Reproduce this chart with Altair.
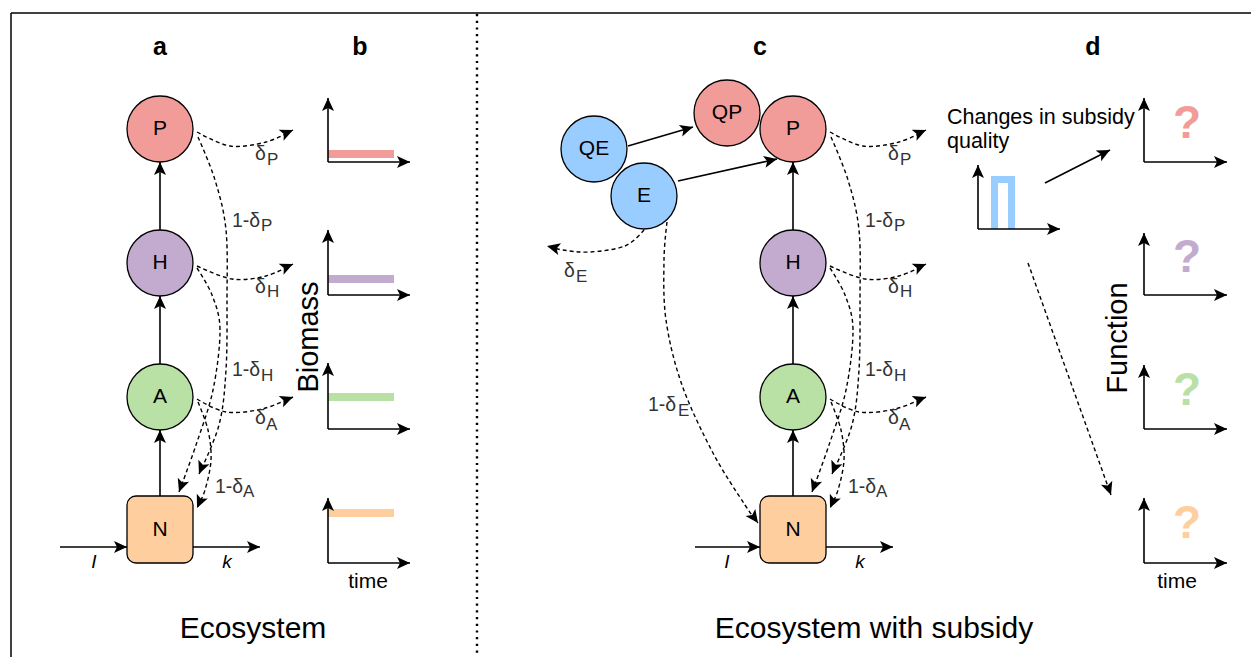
import math
import altair as alt
import pandas as pd

W, H = 1251, 657
FONT = "Liberation Sans"
PINK, PURPLE, GREEN, ORANGE, BLUE = "#f19c99", "#c3abd0", "#b9e0a5", "#ffce9f", "#99ccff"
SHIFT_C = 633  # panel c is panel a shifted right

# ---------------- nodes ----------------
circle_labels = ["P", "H", "A", "P", "H", "A", "QP", "QE", "E"]
circle_x = [160, 160, 160, 793, 793, 793, 727, 594, 644]
circle_y = [129, 263, 397, 129, 263, 397, 113, 149, 196]
circle_fill = [PINK, PURPLE, GREEN, PINK, PURPLE, GREEN, PINK, BLUE, BLUE]
circle_r = 33

box_labels = ["N", "N"]
box_x1 = [127, 760]
box_x2 = [193, 826]
box_y1 = [496, 496]
box_y2 = [563, 563]

# ---------------- solid arrows ----------------
arrow_x1 = [160, 160, 160, 60, 193, 793, 793, 793, 695, 826, 628, 678, 1045]
arrow_y1 = [496, 364, 230, 547, 547, 496, 364, 230, 547, 547, 146, 181, 183]
arrow_x2 = [160, 160, 160, 127, 260, 793, 793, 793, 760, 893, 693, 777, 1110]
arrow_y2 = [430, 296, 162, 547, 547, 430, 296, 162, 547, 547, 127, 159, 150]

# ---------------- mini axes ----------------
axes_x0 = [328, 328, 328, 328, 1144, 1144, 1144, 1144, 978]
axes_x1 = [410, 410, 410, 410, 1227, 1227, 1227, 1227, 1060]
axes_ytop = [98, 230, 363, 498, 98, 233, 365, 498, 165]
axes_ybot = [162, 295, 429, 563, 162, 295, 429, 563, 229]

biomass_y = [154, 279, 397, 513]
biomass_x1 = [328, 328, 328, 328]
biomass_x2 = [394, 394, 394, 394]
biomass_col = [PINK, PURPLE, GREEN, ORANGE]

pulse_x = [994.5, 994.5, 1011.5, 1011.5]
pulse_y = [229, 179.5, 179.5, 229]

# ---------------- dashed curves (through-points, arrow at last point) ----------------
curves_a = [
    [(197, 132), (230, 146), (266, 142), (293, 130)],                       # delta P
    [(197, 266), (232, 279), (266, 276), (293, 264)],                       # delta H
    [(197, 399), (226, 412), (262, 409), (293, 397)],                       # delta A
    [(198, 137), (215, 180), (226, 230), (227, 300), (226, 370), (219, 425), (199, 474)],  # 1-dP
    [(197, 268), (212, 295), (220, 330), (213, 390), (196, 445), (179, 492)],              # 1-dH
    [(198, 402), (208, 430), (211, 460), (205, 490), (197, 508)],                         # 1-dA
]
curves_extra = [
    [(644, 230), (625, 246), (590, 252), (563, 250), (547, 246)],                          # delta E
    [(667, 222), (664, 260), (666, 320), (682, 385), (713, 453), (745, 505), (758, 523)],  # 1-dE
    [(1028, 263), (1111, 495)],                                                           # d dashed
]

# ---------------- texts ----------------
panel_letters = ["a", "b", "c", "d"]
panel_x = [160, 360, 760, 1093]
panel_y = [55, 55, 55, 55]

titles = ["Ecosystem", "Ecosystem with subsidy"]
titles_x = [253, 874]
titles_y = [638, 638]

time_x = [368, 1177]
time_y = [588, 588]

changes_text = ["Changes in subsidy", "quality"]
changes_x = [947, 947]
changes_y = [124, 148]

flow_text = ["I", "k", "I", "k"]
flow_x = [94, 227, 727, 860]
flow_y = [568, 568, 568, 568]

ylabels = ["Biomass", "Function"]
ylabels_x = [309, 1118]
ylabels_y = [337, 338]

lab_main_a = ["δ", "1-δ", "δ", "1-δ", "δ", "1-δ"]
lab_sub_a = ["P", "P", "H", "H", "A", "A"]
lab_x_a = [255, 232, 255, 232, 255, 215]
lab_y_a = [160, 227, 293, 376, 424, 493]
sub_x_a = [267, 261, 267, 261, 266, 243]
sub_y_a = [165, 231, 297, 381, 430, 497]
lab_main_e = ["δ", "1-δ"]
lab_sub_e = ["E", "E"]
lab_x_e = [564, 648]
lab_y_e = [277, 411]
sub_x_e = [576, 678]
sub_y_e = [282, 416]

qmark_y = [138, 272, 405, 538]
qmark_x = [1187, 1187, 1187, 1187]
qmark_col = [PINK, PURPLE, GREEN, ORANGE]

# ================= build tables =================
XS = alt.Scale(domain=[0, W], range=[0, W], nice=False, zero=False)
YS = alt.Scale(domain=[0, H], range=[0, H], nice=False, zero=False)


def X(f="x"):
    return alt.X(f"{f}:Q", scale=XS, axis=None)


def Y(f="y"):
    return alt.Y(f"{f}:Q", scale=YS, axis=None)


def angle_of(x0, y0, x1, y1):
    return (math.degrees(math.atan2(x1 - x0, -(y1 - y0))) + 360) % 360


layers = []

# frame
frame = pd.DataFrame({"x": [11, 11], "y": [13, 13], "x2": [W, 11], "y2": [13, H]})
layers.append(alt.Chart(frame).mark_rule(color="black", strokeWidth=1.5).encode(
    x=X(), y=Y(), x2="x2:Q", y2="y2:Q"))
divider = pd.DataFrame({"x": [477], "y": [14], "x2": [477], "y2": [H]})
layers.append(alt.Chart(divider).mark_rule(color="black", strokeWidth=2.4, strokeDash=[2.2, 4.5]).encode(
    x=X(), y=Y(), x2="x2:Q", y2="y2:Q"))

# solid arrow lines (incl. mini axes)
sx1, sy1, sx2, sy2 = list(arrow_x1), list(arrow_y1), list(arrow_x2), list(arrow_y2)
for x0, x1, yt, yb in zip(axes_x0, axes_x1, axes_ytop, axes_ybot):
    sx1 += [x0, x0]
    sy1 += [yb, yb]
    sx2 += [x0, x1]
    sy2 += [yt, yb]
solid = pd.DataFrame({"x": sx1, "y": sy1, "x2": sx2, "y2": sy2})

# colored bars in panel b
bars = pd.DataFrame({"x": biomass_x1, "x2": biomass_x2, "y": biomass_y, "c": biomass_col})
layers.append(alt.Chart(bars).mark_rule(strokeWidth=8).encode(
    x=X(), x2="x2:Q", y=Y(), y2="y:Q", color=alt.Color("c:N", scale=None)))
pulse = pd.DataFrame({"x": pulse_x, "y": pulse_y, "o": list(range(len(pulse_x)))})
layers.append(alt.Chart(pulse).mark_line(color=BLUE, strokeWidth=7, strokeJoin="miter", strokeCap="butt").encode(
    x=X(), y=Y(), order="o:Q"))

layers.append(alt.Chart(solid).mark_rule(color="black", strokeWidth=1.6).encode(
    x=X(), y=Y(), x2="x2:Q", y2="y2:Q"))

# dashed curves
all_curves = [[(px + dx, py) for px, py in c] for dx in (0, SHIFT_C) for c in curves_a] + curves_extra
rows = []
for cid, c in enumerate(all_curves):
    for i, (px, py) in enumerate(c):
        rows.append({"cid": cid, "o": i, "x": px, "y": py})
dashed = pd.DataFrame(rows)
layers.append(alt.Chart(dashed).mark_line(color="black", strokeWidth=1.4, strokeDash=[4, 3],
                                          interpolate="cardinal").encode(
    x=X(), y=Y(), detail="cid:N", order="o:Q"))

# arrowheads
heads = []
for a, b, c, d in zip(sx1, sy1, sx2, sy2):
    heads.append({"x": c, "y": d, "ang": angle_of(a, b, c, d)})
for c in all_curves:
    (a, b), (cc, d) = c[-2], c[-1]
    heads.append({"x": cc, "y": d, "ang": angle_of(a, b, cc, d)})
heads = pd.DataFrame(heads)
ARROW = "M0,0L6,13L0,10L-6,13Z"
layers.append(alt.Chart(heads).mark_point(shape=ARROW, filled=True, color="black", opacity=1, size=4,
                                          strokeWidth=0).encode(
    x=X(), y=Y(), angle=alt.Angle("ang:Q", scale=None)))

# circles (vega circle symbol radius = sqrt(size)/2)
circ = pd.DataFrame({"x": circle_x, "y": circle_y, "f": circle_fill, "t": circle_labels})
layers.append(alt.Chart(circ).mark_point(shape="circle", filled=True, opacity=1, stroke="black",
                                         strokeWidth=1.3, size=(2 * circle_r) ** 2).encode(
    x=X(), y=Y(), fill=alt.Fill("f:N", scale=None)))
box = pd.DataFrame({"x": box_x1, "x2": box_x2, "y": box_y1, "y2": box_y2, "t": box_labels})
layers.append(alt.Chart(box).mark_rect(fill=ORANGE, stroke="black", strokeWidth=1.3, cornerRadius=9).encode(
    x=X(), x2="x2:Q", y=Y(), y2="y2:Q"))

# node labels
nl = pd.DataFrame({"x": circle_x + [(a + b) / 2 for a, b in zip(box_x1, box_x2)],
                   "y": circle_y + [(a + b) / 2 for a, b in zip(box_y1, box_y2)],
                   "t": circle_labels + box_labels})
layers.append(alt.Chart(nl).mark_text(font=FONT, fontSize=21, color="black", align="center",
                                      baseline="middle").encode(x=X(), y=Y(), text="t:N"))

# panel letters
pl = pd.DataFrame({"x": panel_x, "y": panel_y, "t": panel_letters})
layers.append(alt.Chart(pl).mark_text(font=FONT, fontSize=25, fontWeight="bold", color="black",
                                      align="center", baseline="alphabetic").encode(x=X(), y=Y(), text="t:N"))

# titles
tl = pd.DataFrame({"x": titles_x, "y": titles_y, "t": titles})
layers.append(alt.Chart(tl).mark_text(font=FONT, fontSize=30, color="black", align="center",
                                      baseline="alphabetic").encode(x=X(), y=Y(), text="t:N"))
tm = pd.DataFrame({"x": time_x, "y": time_y, "t": ["time", "time"]})
layers.append(alt.Chart(tm).mark_text(font=FONT, fontSize=21, color="black", align="center",
                                      baseline="alphabetic").encode(x=X(), y=Y(), text="t:N"))
ch = pd.DataFrame({"x": changes_x, "y": changes_y, "t": changes_text})
layers.append(alt.Chart(ch).mark_text(font=FONT, fontSize=21.5, color="black", align="left",
                                      baseline="alphabetic").encode(x=X(), y=Y(), text="t:N"))
fl = pd.DataFrame({"x": flow_x, "y": flow_y, "t": flow_text})
layers.append(alt.Chart(fl).mark_text(font=FONT, fontSize=19, fontStyle="italic", color="black",
                                      align="center", baseline="alphabetic").encode(x=X(), y=Y(), text="t:N"))
yl = pd.DataFrame({"x": ylabels_x, "y": ylabels_y, "t": ylabels})
layers.append(alt.Chart(yl).mark_text(font=FONT, fontSize=29, color="black", align="center",
                                      baseline="middle", angle=270).encode(x=X(), y=Y(), text="t:N"))

# delta labels
mains = pd.DataFrame({
    "x": lab_x_a + [v + SHIFT_C for v in lab_x_a] + lab_x_e,
    "y": lab_y_a + lab_y_a + lab_y_e,
    "t": lab_main_a + lab_main_a + lab_main_e})
subs = pd.DataFrame({
    "x": sub_x_a + [v + SHIFT_C for v in sub_x_a] + sub_x_e,
    "y": sub_y_a + sub_y_a + sub_y_e,
    "t": lab_sub_a + lab_sub_a + lab_sub_e})
layers.append(alt.Chart(mains).mark_text(font=FONT, fontSize=19.5, color="#333333", align="left",
                                         baseline="alphabetic").encode(x=X(), y=Y(), text="t:N"))
layers.append(alt.Chart(subs).mark_text(font=FONT, fontSize=17, color="#333333", align="left",
                                        baseline="alphabetic").encode(x=X(), y=Y(), text="t:N"))

# question marks
qm = pd.DataFrame({"x": qmark_x, "y": qmark_y, "c": qmark_col, "t": ["?"] * 4})
layers.append(alt.Chart(qm).mark_text(font=FONT, fontSize=46, fontWeight="bold", align="center",
                                      baseline="alphabetic").encode(
    x=X(), y=Y(), text="t:N", color=alt.Color("c:N", scale=None)))

chart = alt.layer(*layers).properties(width=W, height=H, padding=0, autosize="none",
                                      background="white").configure_view(stroke=None)
chart.save("out.html", embed_options={"renderer": "svg", "actions": False})
